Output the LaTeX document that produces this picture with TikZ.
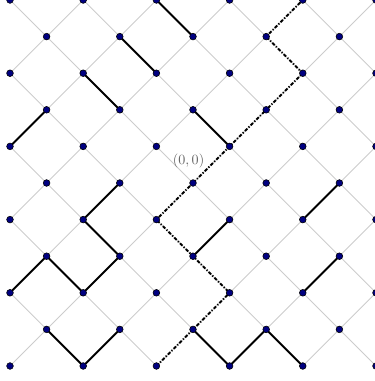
\documentclass[tikz,border=0pt]{standalone}
\definecolor{dotblue}{RGB}{0,0,128}
\begin{document}
\begin{tikzpicture}[x=1cm,y=1cm,
  gridline/.style={draw=black!20, line width=0.7pt},
  pathseg/.style={draw=black, line width=1.5pt, line cap=round, line join=round},
  dashpath/.style={draw=black, line width=1.5pt, dash pattern=on 2.6pt off 1.4pt on 0.9pt off 1.4pt},
  dotnode/.style={circle, fill=dotblue, draw=black, line width=0.45pt, inner sep=0pt, minimum size=5.2pt},
  lbl/.style={text=black!60, inner sep=0pt, font=\fontsize{10.8}{13}\selectfont}]
\useasboundingbox (0,0) rectangle (10.246,-10.41);
\foreach \i in {0,...,10} {
  \foreach \j in {0,...,10} {
    \coordinate (p\i-\j) at (0.2732+\i, -\j);
  }
}
% lattice lines
\foreach \i in {0,...,9} {
  \foreach \j in {0,...,10} {
    \pgfmathtruncatemacro\s{mod(\i+\j,2)}
    \pgfmathtruncatemacro\ni{\i+1}
    \pgfmathtruncatemacro\dj{\j+1}
    \pgfmathtruncatemacro\uj{\j-1}
    \ifnum\s=0
      \ifnum\j<10 \draw[gridline] (p\i-\j) -- (p\ni-\dj); \fi
      \ifnum\j>0 \draw[gridline] (p\i-\j) -- (p\ni-\uj); \fi
    \fi
  }
}
% solid segments
\draw[pathseg] (p4-0) -- (p5-1);
\draw[pathseg] (p3-1) -- (p4-2);
\draw[pathseg] (p2-2) -- (p3-3);
\draw[pathseg] (p0-4) -- (p1-3);
\draw[pathseg] (p5-3) -- (p6-4);
\draw[pathseg] (p3-5) -- (p2-6) -- (p3-7) -- (p2-8) -- (p1-7) -- (p0-8);
\draw[pathseg] (p9-5) -- (p8-6);
\draw[pathseg] (p6-6) -- (p5-7);
\draw[pathseg] (p9-7) -- (p8-8);
\draw[pathseg] (p1-9) -- (p2-10) -- (p3-9);
\draw[pathseg] (p5-9) -- (p6-10) -- (p7-9) -- (p8-10);
% dash-dot path
\draw[dashpath] (p4-10) -- (p5-9) -- (p6-8) -- (p5-7) -- (p4-6) -- (p5-5) -- (p6-4) -- (p7-3) -- (p8-2) -- (p7-1) -- (p8-0);
% dots
\foreach \i in {0,...,10} {
  \foreach \j in {0,...,10} {
    \pgfmathtruncatemacro\s{mod(\i+\j,2)}
    \ifnum\s=0
      \node[dotnode] (d\i-\j) at (p\i-\j) {};
    \fi
  }
}
\node[lbl] (origin) at ([shift={(-0.12,0.59)}]p5-5) {$(0,0)$};
\end{tikzpicture}
\end{document}
